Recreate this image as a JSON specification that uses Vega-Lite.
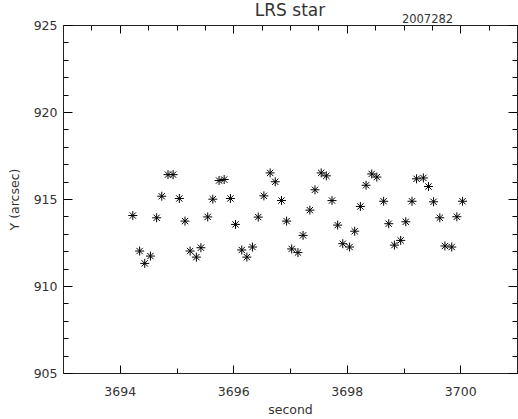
{
  "$schema": "https://vega.github.io/schema/vega-lite/v6.json",
  "width": 454,
  "height": 348,
  "autosize": {"type": "none"},
  "padding": {"left": 63, "top": 25, "right": 1, "bottom": 46},
  "background": "white",
  "config": {
    "view": {"stroke": null},
    "font": "DejaVu Sans",
    "axis": {
      "domainColor": "#222",
      "labelColor": "#333",
      "titleColor": "#333",
      "labelFont": "DejaVu Sans",
      "titleFont": "DejaVu Sans",
      "labelFontSize": 12.5,
      "titleFontSize": 12.5,
      "titleFontWeight": "normal",
      "grid": false
    }
  },
  "title": {
    "text": "LRS star",
    "fontSize": 17,
    "fontWeight": "normal",
    "font": "DejaVu Sans",
    "color": "#333",
    "anchor": "middle",
    "frame": "group",
    "baseline": "alphabetic",
    "offset": -5,
    "dy": 15
  },
  "data": {
    "values": [
      {"second": 3694.23, "y": 914.05},
      {"second": 3694.35, "y": 912.01},
      {"second": 3694.44, "y": 911.30},
      {"second": 3694.54, "y": 911.72},
      {"second": 3694.65, "y": 913.92},
      {"second": 3694.74, "y": 915.16},
      {"second": 3694.85, "y": 916.40},
      {"second": 3694.94, "y": 916.40},
      {"second": 3695.05, "y": 915.03},
      {"second": 3695.15, "y": 913.73},
      {"second": 3695.24, "y": 912.01},
      {"second": 3695.35, "y": 911.66},
      {"second": 3695.43, "y": 912.20},
      {"second": 3695.55, "y": 913.97},
      {"second": 3695.64, "y": 914.99},
      {"second": 3695.75, "y": 916.06},
      {"second": 3695.84, "y": 916.12},
      {"second": 3695.95, "y": 915.03},
      {"second": 3696.04, "y": 913.54},
      {"second": 3696.15, "y": 912.07},
      {"second": 3696.24, "y": 911.66},
      {"second": 3696.34, "y": 912.24},
      {"second": 3696.44, "y": 913.96},
      {"second": 3696.54, "y": 915.18},
      {"second": 3696.65, "y": 916.50},
      {"second": 3696.74, "y": 915.99},
      {"second": 3696.85, "y": 914.91},
      {"second": 3696.94, "y": 913.73},
      {"second": 3697.03, "y": 912.13},
      {"second": 3697.14, "y": 911.92},
      {"second": 3697.23, "y": 912.91},
      {"second": 3697.35, "y": 914.36},
      {"second": 3697.44, "y": 915.53},
      {"second": 3697.55, "y": 916.50},
      {"second": 3697.64, "y": 916.33},
      {"second": 3697.74, "y": 914.91},
      {"second": 3697.84, "y": 913.50},
      {"second": 3697.93, "y": 912.43},
      {"second": 3698.05, "y": 912.24},
      {"second": 3698.14, "y": 913.15},
      {"second": 3698.24, "y": 914.57},
      {"second": 3698.34, "y": 915.79},
      {"second": 3698.44, "y": 916.44},
      {"second": 3698.53, "y": 916.26},
      {"second": 3698.65, "y": 914.87},
      {"second": 3698.74, "y": 913.58},
      {"second": 3698.84, "y": 912.35},
      {"second": 3698.95, "y": 912.62},
      {"second": 3699.04, "y": 913.69},
      {"second": 3699.15, "y": 914.87},
      {"second": 3699.23, "y": 916.16},
      {"second": 3699.35, "y": 916.21},
      {"second": 3699.44, "y": 915.72},
      {"second": 3699.53, "y": 914.84},
      {"second": 3699.64, "y": 913.92},
      {"second": 3699.73, "y": 912.30},
      {"second": 3699.85, "y": 912.24},
      {"second": 3699.94, "y": 913.98},
      {"second": 3700.04, "y": 914.87}
    ]
  },
  "resolve": {"axis": {"x": "independent", "y": "independent"}},
  "layer": [
    {
      "mark": {
        "type": "point",
        "shape": "M-1,0H1M0,-1V1M-0.7,-0.7L0.7,0.7M-0.7,0.7L0.7,-0.7",
        "filled": false,
        "stroke": "#000",
        "strokeWidth": 1,
        "size": 81,
        "opacity": 1
      },
      "encoding": {
        "x": {
          "field": "second",
          "type": "quantitative",
          "scale": {"domain": [3693, 3701], "nice": false, "zero": false},
          "axis": {
            "orient": "bottom",
            "title": "second",
            "values": [3693, 3693.5, 3694, 3694.5, 3695, 3695.5, 3696, 3696.5, 3697, 3697.5, 3698, 3698.5, 3699, 3699.5, 3700, 3700.5, 3701],
            "labelExpr": "(datum.value % 2 === 0 && datum.value > 3693 && datum.value < 3701) ? datum.label : ''",
            "format": "d",
            "ticks": true,
            "tickColor": "black",
            "tickWidth": 1,
            "tickSize": {"condition": {"test": "datum.value % 2 === 0", "value": -8}, "value": -5},
            "labelPadding": 20,
            "labelFlush": false,
            "labelOverlap": false,
            "titlePadding": 3
          }
        },
        "y": {
          "field": "y",
          "type": "quantitative",
          "scale": {"domain": [905, 925], "nice": false, "zero": false},
          "axis": {
            "orient": "left",
            "title": "Y (arcsec)",
            "values": [905, 906, 907, 908, 909, 910, 911, 912, 913, 914, 915, 916, 917, 918, 919, 920, 921, 922, 923, 924, 925],
            "labelExpr": "datum.value % 5 === 0 ? datum.label : ''",
            "format": "d",
            "ticks": true,
            "tickColor": "black",
            "tickWidth": 1,
            "tickSize": {"condition": {"test": "datum.value % 5 === 0", "value": -9}, "value": -5},
            "labelPadding": 15,
            "labelFlush": false,
            "labelOverlap": false,
            "titlePadding": 12
          }
        }
      }
    },
    {
      "mark": {"type": "point", "opacity": 0},
      "encoding": {
        "x": {
          "field": "second",
          "type": "quantitative",
          "axis": {
            "orient": "top",
            "title": "2007282",
            "titleFontSize": 11.5,
            "titleAnchor": null,
            "titleAlign": "center",
            "titleBaseline": "alphabetic",
            "titleX": 364,
            "titleY": -3,
            "labels": false,
            "domain": true,
            "ticks": true,
            "tickColor": "black",
            "tickWidth": 1,
            "values": [3693, 3693.5, 3694, 3694.5, 3695, 3695.5, 3696, 3696.5, 3697, 3697.5, 3698, 3698.5, 3699, 3699.5, 3700, 3700.5, 3701],
            "tickSize": {"condition": {"test": "datum.value % 2 === 0", "value": -8}, "value": -5}
          }
        },
        "y": {
          "field": "y",
          "type": "quantitative",
          "axis": {
            "orient": "right",
            "title": null,
            "labels": false,
            "domain": true,
            "ticks": true,
            "tickColor": "black",
            "tickWidth": 1,
            "values": [905, 906, 907, 908, 909, 910, 911, 912, 913, 914, 915, 916, 917, 918, 919, 920, 921, 922, 923, 924, 925],
            "tickSize": {"condition": {"test": "datum.value % 5 === 0", "value": -9}, "value": -5}
          }
        }
      }
    }
  ]
}
